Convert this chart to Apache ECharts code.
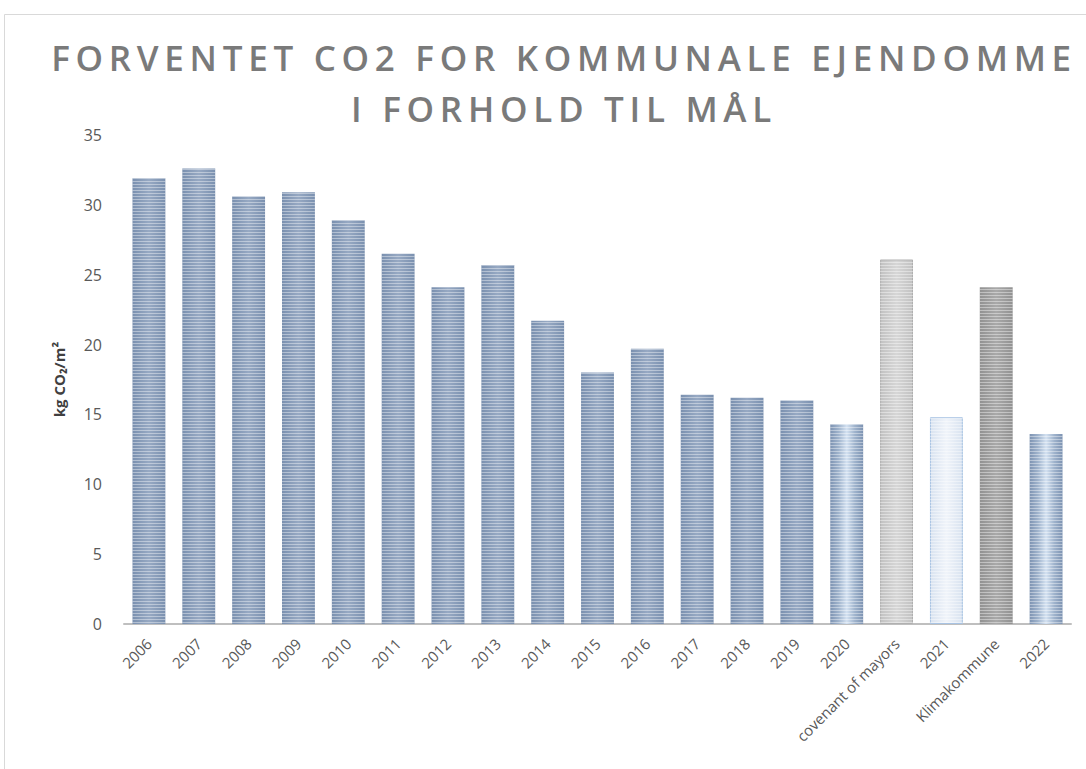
<!DOCTYPE html>
<html><head><meta charset="utf-8">
<script src="https://cdn.jsdelivr.net/npm/echarts@6/dist/echarts.min.js"></script>
<style>html,body{margin:0;padding:0;background:#fff}#c{width:1086px;height:769px}</style>
<style id="ls"></style>
</head><body><div id="c"></div>
<script>
const categories = ['2006','2007','2008','2009','2010','2011','2012','2013','2014','2015','2016','2017','2018','2019','2020','covenant of mayors','2021','Klimakommune','2022'];
const values = [31.9,32.6,30.6,30.9,28.9,26.5,24.1,25.7,21.7,18.0,19.7,16.4,16.2,16.0,14.3,26.1,14.8,24.1,13.6];
const yTicks = [0,5,10,15,20,25,30,35];
const titleLines = ['FORVENTET CO2 FOR KOMMUNALE EJENDOMME','I FORHOLD TIL MÅL'];
const yName = 'kg CO₂/m²';

// letter spacing for the title so line 1 spans ~1020px
const TFONT = '600 35px "Open Sans"';
const mc = document.createElement('canvas').getContext('2d');
mc.font = TFONT;
const w0 = mc.measureText(titleLines[0]).width;
const ls = Math.max(0,(1020 - w0)/(titleLines[0].length-1));
document.getElementById('ls').textContent = '#c svg text[style*="35px"]{letter-spacing:'+ls.toFixed(2)+'px}';

function lin(edge, center){
  return {type:'linear',x:0,y:0,x2:1,y2:0,colorStops:[{offset:0,color:edge},{offset:0.5,color:center},{offset:1,color:edge}]};
}
function styleFor(cat){
  if(cat==='2020'||cat==='2022') return {color:{type:'linear',x:0,y:0,x2:1,y2:0,colorStops:[{offset:0,color:'#7d93b2'},{offset:0.25,color:'#9fb3cc'},{offset:0.5,color:'#d3e1f1'},{offset:0.75,color:'#9fb3cc'},{offset:1,color:'#7d93b2'}]}};
  if(cat==='covenant of mayors') return {color:lin('#c2c2c2','#d6d6d6'),borderColor:'#b0b0b0',borderWidth:1};
  if(cat==='2021') return {color:lin('#d9e3f0','#f0f4fa'),borderColor:'#a8c3e3',borderWidth:1};
  if(cat==='Klimakommune') return {color:lin('#919191','#a9a9a9')};
  return {color:lin('#7a90af','#97a9c3')};
}
// stripe pattern
const pc = document.createElement('canvas'); pc.width=4; pc.height=3;
const pctx = pc.getContext('2d');
pctx.fillStyle='rgba(255,255,255,0.4)'; pctx.fillRect(0,1,4,1);
const stripe = pc.toDataURL();

const chart = echarts.init(document.getElementById('c'),null,{renderer:'svg'});
chart.setOption({
  animation:false,
  backgroundColor:'#fff',
  graphic:[
    {type:'rect',shape:{x:4.5,y:14.5,width:1090,height:760},style:{fill:'none',stroke:'#d9d9d9',lineWidth:1}},
    {type:'text',x:564,y:57,style:{text:titleLines[0],font:TFONT,fill:'#7a7a7a',textAlign:'center',textVerticalAlign:'middle'}},
    {type:'text',x:564,y:108,style:{text:titleLines[1],font:TFONT,fill:'#7a7a7a',textAlign:'center',textVerticalAlign:'middle'}}
  ],
  grid:{left:124,right:15,top:135,bottom:145},
  xAxis:{type:'category',data:categories,
    axisLine:{lineStyle:{color:'#bfbfbf',width:2}},axisTick:{show:false},
    axisLabel:{rotate:45,interval:0,color:'#595959',fontFamily:'Open Sans',fontSize:15,margin:17}},
  yAxis:{type:'value',min:0,max:35,interval:5,
    name:yName,nameLocation:'middle',nameGap:58,nameRotate:90,
    nameTextStyle:{fontFamily:'Open Sans',fontWeight:'bold',fontSize:15,color:'#404040'},
    axisLine:{show:false},axisTick:{show:false},splitLine:{show:false},
    axisLabel:{color:'#595959',fontFamily:'Open Sans',fontSize:16,margin:22,
      formatter:v=>yTicks.includes(v)?String(v):''}},
  series:[
    {type:'bar',barWidth:'66%',barGap:'-100%',
      data:values.map((v,i)=>({value:v,itemStyle:styleFor(categories[i])}))},
    {type:'bar',barWidth:'66%',barGap:'-100%',silent:true,
      data:values.map(v=>({value:v})),
      itemStyle:{color:{image:stripe,repeat:'repeat'}}}
  ]
});
</script></body></html>
